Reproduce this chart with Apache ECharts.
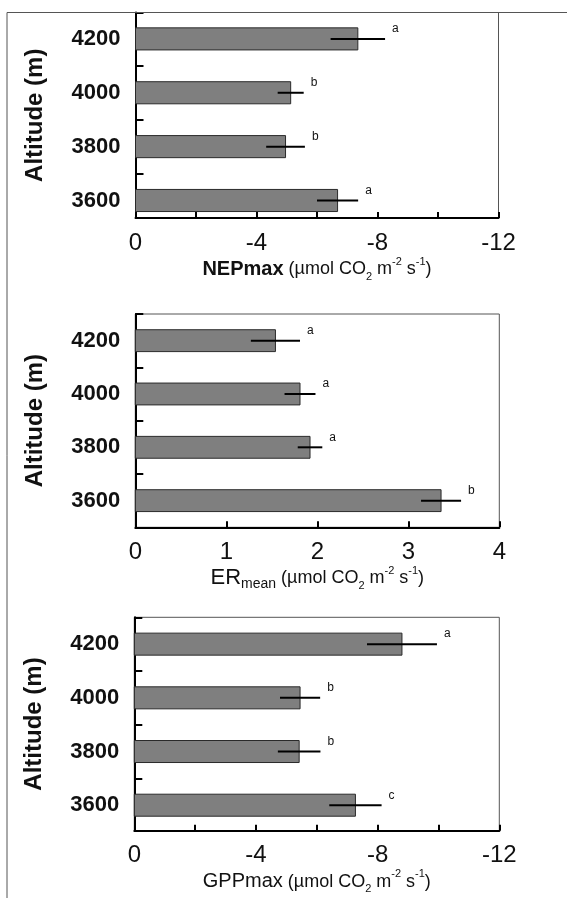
<!DOCTYPE html>
<html>
<head>
<meta charset="utf-8">
<script src="https://cdn.jsdelivr.net/npm/echarts@6/dist/echarts.min.js"></script>
<style>
html, body { margin: 0; padding: 0; background: #fff; }
#chart { width: 567px; height: 898px; }
</style>
</head>
<body>
<div id="chart"></div>
<script>
var FONT = "'Liberation Sans', Arial, sans-serif";

// altitudes (m), bottom to top
var altitudes = [3600, 3800, 4000, 4200];

// NEPmax (µmol CO2 m-2 s-1)
var nepMax = [-6.68, -4.96, -5.13, -7.35];
var nepErr = [0.68, 0.64, 0.43, 0.90];
var nepLetters = ['a', 'b', 'b', 'a'];

// ERmean
var erMean = [3.36, 1.92, 1.81, 1.54];
var erErr = [0.22, 0.135, 0.17, 0.27];
var erLetters = ['b', 'a', 'a', 'a'];

// GPPmax
var gppMax = [-7.27, -5.42, -5.45, -8.80];
var gppErr = [0.86, 0.70, 0.66, 1.15];
var gppLetters = ['c', 'b', 'b', 'a'];

var chart = echarts.init(document.getElementById('chart'), null, {renderer: 'canvas'});

function rows(vals, errs) {
    return altitudes.map(function (a, i) {
        return [vals[i], a, errs[i]];
    });
}

function makeRender(letters) {
    return function (params, api) {
        var v = api.value(0), alt = api.value(1), err = api.value(2);
        var p0 = api.coord([0, alt]);
        var p1 = api.coord([v, alt]);
        var h = api.size([0, 200])[1] * 0.41;
        var e0 = api.coord([v - err, alt]);
        var e1 = api.coord([v + err, alt]);
        var xr = Math.max(e0[0], e1[0]);
        return {
            type: 'group',
            children: [
                {type: 'rect', shape: {x: Math.min(p0[0], p1[0]), y: p0[1] - h / 2, width: Math.abs(p1[0] - p0[0]), height: h},
                 style: {fill: '#7f7f7f', stroke: '#2a2a2a', lineWidth: 1}},
                {type: 'line', shape: {x1: e0[0], y1: p0[1], x2: e1[0], y2: p0[1]},
                 style: {stroke: '#000', lineWidth: 2}},
                {type: 'text', x: xr + 7, y: p0[1] - h / 2 + 1,
                 style: {text: letters[params.dataIndex], fill: '#111', font: '12px ' + FONT,
                         align: 'left', verticalAlign: 'middle'}}
            ]
        };
    };
}

var grids = [
    {left: 135.5, top: 12.5, width: 363, height: 205.5},
    {left: 135.3, top: 314, width: 364, height: 213.3},
    {left: 134.3, top: 617.3, width: 365, height: 213.4}
];
grids.forEach(function (g) {
    g.show = true;
    g.borderColor = '#555';
    g.borderWidth = 1;
    g.backgroundColor = 'transparent';
});

var yRanges = [[3535, 4298], [3500, 4300], [3505, 4300]];

var yAxes = yRanges.map(function (r, i) {
    return {
        type: 'value', gridIndex: i, min: r[0], max: r[1],
        name: 'Altitude (m)', nameLocation: 'middle', nameRotate: 90, nameGap: 88, nameMoveOverlap: false,
        nameTextStyle: {fontFamily: FONT, fontWeight: 'bold', fontSize: 24, color: '#111'},
        axisLine: {show: true, lineStyle: {color: '#000', width: 2}},
        axisTick: {show: true, inside: true, length: 8, customValues: [3700, 3900, 4100, r[1]],
                   lineStyle: {color: '#000', width: 2}},
        axisLabel: {customValues: altitudes, margin: 15, fontFamily: FONT, fontWeight: 'bold',
                    fontSize: 22, color: '#111', formatter: function (v) { return String(v); }},
        splitLine: {show: false}
    };
});

var richBase = {
    b: {fontFamily: FONT, fontWeight: 'bold', fontSize: 20, color: '#111', lineHeight: 26, verticalAlign: 'middle'},
    n: {fontFamily: FONT, fontSize: 20, color: '#111', lineHeight: 26, verticalAlign: 'middle'},
    e: {fontFamily: FONT, fontSize: 22, color: '#111', lineHeight: 26, verticalAlign: 'middle'},
    r: {fontFamily: FONT, fontSize: 18, color: '#111', lineHeight: 26, verticalAlign: 'middle'},
    sub: {fontFamily: FONT, fontSize: 11, color: '#111', lineHeight: 11, verticalAlign: 'bottom'},
    msub: {fontFamily: FONT, fontSize: 14, color: '#111', lineHeight: 14, verticalAlign: 'bottom'},
    sup: {fontFamily: FONT, fontSize: 11, color: '#111', lineHeight: 13, verticalAlign: 'top'}
};
var unitText = '{r| (µmol CO}{sub|2}{r| m}{sup|-2}{r| s}{sup|-1}{r|)}';

function xAxis(i, min, max, interval, inverse, name, labelEvery) {
    return {
        type: 'value', gridIndex: i, min: min, max: max, interval: interval, inverse: inverse,
        name: name, nameLocation: 'middle', nameGap: 38, nameMoveOverlap: false,
        nameTextStyle: {rich: richBase},
        axisLine: {show: true, onZero: false, lineStyle: {color: '#000', width: 2}},
        axisTick: {show: true, inside: true, length: 6, lineStyle: {color: '#000', width: 2}},
        axisLabel: {
            margin: 13, fontFamily: FONT, fontSize: 24, color: '#111',
            formatter: function (v) { return (Math.abs(v) % labelEvery === 0) ? String(v) : ''; }
        },
        splitLine: {show: false}
    };
}

var option = {
    animation: false,
    backgroundColor: '#fff',
    grid: grids,
    xAxis: [
        xAxis(0, -12, 0, 2, true, '{b|NEPmax}' + unitText, 4),
        xAxis(1, 0, 4, 1, false, '{e|ER}{msub|mean}' + unitText, 1),
        xAxis(2, -12, 0, 2, true, '{n|GPPmax}' + unitText, 4)
    ],
    yAxis: yAxes,
    series: [
        {type: 'custom', xAxisIndex: 0, yAxisIndex: 0, renderItem: makeRender(nepLetters),
         encode: {x: 0, y: 1}, data: rows(nepMax, nepErr), clip: false},
        {type: 'custom', xAxisIndex: 1, yAxisIndex: 1, renderItem: makeRender(erLetters),
         encode: {x: 0, y: 1}, data: rows(erMean, erErr), clip: false},
        {type: 'custom', xAxisIndex: 2, yAxisIndex: 2, renderItem: makeRender(gppLetters),
         encode: {x: 0, y: 1}, data: rows(gppMax, gppErr), clip: false}
    ],
    graphic: [
        {type: 'line', shape: {x1: 7, y1: 12.5, x2: 567, y2: 12.5}, style: {stroke: '#555', lineWidth: 1}, z: 10},
        {type: 'line', shape: {x1: 7, y1: 12.5, x2: 7, y2: 898}, style: {stroke: '#555', lineWidth: 1}, z: 10}
    ]
};

chart.setOption(option);
</script>
</body>
</html>
